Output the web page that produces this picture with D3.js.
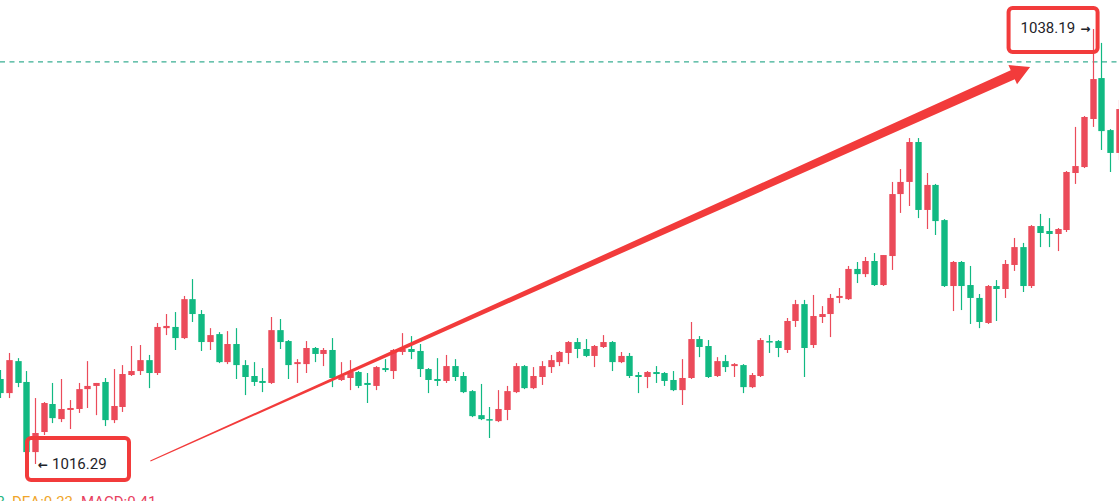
<!DOCTYPE html>
<html lang="en">
<head>
<meta charset="utf-8">
<script src="https://d3js.org/d3.v7.min.js"></script>
<style>
    body { margin: 0; background-color: #ffffff; overflow: hidden; }
    svg { display: block; font-family: Roboto, "Noto Sans", sans-serif; }
    .note { fill: #1e2329; font-size: 15px; }
    .arw { font-family: "DejaVu Sans", sans-serif; font-size: 12px; font-weight: bold; }
</style>
</head>
<body>
<script>
// candle data (oldest first)
var open = [1020.57, 1019.86, 1021.47, 1020.42, 1016.89, 1017.90, 1019.31, 1018.55, 1019.01, 1019.06,
    1020.06, 1020.22, 1020.42, 1018.50, 1019.16, 1020.77, 1020.97, 1021.52, 1020.87, 1023.13,
    1023.19, 1022.63, 1024.59, 1023.84, 1022.43, 1022.83, 1021.42, 1022.33, 1021.27, 1020.72,
    1020.47, 1020.37, 1023.03, 1022.48, 1021.32, 1021.32, 1022.13, 1021.83, 1022.03, 1020.52,
    1020.62, 1020.92, 1020.37, 1020.22, 1021.12, 1020.97, 1021.93, 1022.08, 1021.98, 1021.07,
    1020.57, 1020.47, 1021.22, 1020.72, 1019.96, 1018.75, 1018.55, 1018.45, 1019.01, 1019.91,
    1021.22, 1020.11, 1020.67, 1021.17, 1021.42, 1021.88, 1022.43, 1022.08, 1021.73, 1022.18,
    1022.43, 1021.42, 1021.73, 1020.77, 1020.67, 1020.92, 1020.87, 1020.52, 1020.01, 1020.62,
    1022.58, 1022.23, 1020.72, 1021.47, 1021.22, 1021.27, 1020.16, 1020.72, 1022.48, 1022.48,
    1022.03, 1023.49, 1024.34, 1022.28, 1023.69, 1023.84, 1024.65, 1024.59, 1026.11, 1025.85,
    1026.51, 1025.30, 1026.76, 1029.88, 1030.49, 1032.50, 1029.08, 1030.34, 1028.57, 1025.25,
    1026.46, 1025.30, 1024.65, 1023.39, 1025.25, 1025.10, 1026.31, 1027.21, 1025.25, 1028.27,
    1028.02, 1027.87, 1028.07, 1030.94, 1031.24, 1033.66, 1035.72, 1033.10, 1031.95];
var high = [1021.02, 1021.88, 1021.62, 1020.97, 1019.61, 1019.41, 1020.37, 1020.57, 1019.51, 1020.37,
    1021.47, 1020.37, 1020.62, 1021.07, 1021.27, 1022.23, 1022.28, 1021.78, 1023.39, 1023.84,
    1023.94, 1024.75, 1025.60, 1024.04, 1023.13, 1022.93, 1022.98, 1023.13, 1021.52, 1021.42,
    1021.12, 1023.69, 1023.59, 1022.53, 1021.57, 1022.48, 1022.18, 1022.13, 1022.63, 1021.42,
    1021.52, 1020.97, 1020.87, 1021.22, 1021.57, 1022.08, 1022.88, 1022.73, 1022.33, 1021.12,
    1021.62, 1021.78, 1021.57, 1020.92, 1020.01, 1020.32, 1019.16, 1020.01, 1020.22, 1021.37,
    1021.27, 1021.17, 1021.47, 1021.78, 1021.98, 1022.48, 1022.63, 1022.58, 1022.28, 1022.78,
    1022.48, 1021.93, 1021.88, 1020.92, 1020.97, 1021.22, 1020.92, 1020.97, 1021.57, 1023.44,
    1022.73, 1022.53, 1021.67, 1021.78, 1021.37, 1021.32, 1020.87, 1022.63, 1022.78, 1022.53,
    1023.64, 1024.55, 1024.55, 1024.80, 1024.24, 1024.85, 1025.15, 1026.26, 1026.46, 1026.71,
    1026.91, 1026.81, 1030.49, 1031.14, 1032.70, 1032.70, 1030.94, 1030.39, 1028.62, 1026.51,
    1026.51, 1026.26, 1024.85, 1025.30, 1025.55, 1026.56, 1027.67, 1027.42, 1028.32, 1028.88,
    1028.67, 1028.17, 1031.04, 1033.26, 1033.81, 1038.19, 1037.49, 1033.15, 1034.62];
var low = [1019.61, 1019.61, 1020.16, 1016.85, 1016.29, 1017.75, 1018.35, 1018.40, 1018.05, 1018.86,
    1019.11, 1018.75, 1018.20, 1018.35, 1018.91, 1020.72, 1020.77, 1020.11, 1020.77, 1022.78,
    1022.03, 1022.58, 1023.44, 1021.98, 1022.03, 1021.37, 1021.32, 1020.57, 1019.76, 1020.22,
    1019.91, 1020.32, 1022.08, 1020.57, 1020.37, 1020.87, 1021.42, 1021.22, 1020.16, 1020.47,
    1020.01, 1020.11, 1019.36, 1020.01, 1020.92, 1020.57, 1021.78, 1021.57, 1020.67, 1019.86,
    1020.22, 1020.37, 1020.47, 1019.86, 1018.65, 1018.50, 1017.60, 1018.40, 1018.50, 1019.86,
    1020.06, 1020.06, 1020.27, 1020.87, 1021.22, 1021.32, 1021.62, 1021.67, 1021.17, 1022.13,
    1020.97, 1021.37, 1020.62, 1019.86, 1020.11, 1020.37, 1020.22, 1019.96, 1019.26, 1020.57,
    1021.67, 1020.62, 1020.67, 1020.92, 1020.67, 1019.86, 1020.11, 1020.67, 1021.88, 1021.67,
    1021.88, 1023.19, 1020.67, 1022.13, 1023.39, 1022.68, 1024.39, 1024.55, 1025.40, 1025.70,
    1025.25, 1025.25, 1026.06, 1028.93, 1029.28, 1028.67, 1028.12, 1027.82, 1025.20, 1023.99,
    1024.04, 1023.34, 1023.13, 1023.34, 1023.49, 1024.65, 1026.01, 1024.95, 1025.15, 1027.21,
    1027.21, 1027.01, 1027.97, 1030.39, 1031.19, 1033.26, 1032.10, 1030.99, 1031.59];
var close = [1019.86, 1021.52, 1020.37, 1016.89, 1017.85, 1019.36, 1018.60, 1019.06, 1019.11, 1020.06,
    1020.22, 1020.37, 1018.50, 1019.21, 1020.82, 1020.97, 1021.52, 1020.87, 1023.19, 1023.24,
    1022.63, 1024.59, 1023.84, 1022.43, 1022.78, 1021.42, 1022.33, 1021.27, 1020.67, 1020.42,
    1020.37, 1023.03, 1022.43, 1021.27, 1021.42, 1022.13, 1021.83, 1022.03, 1020.62, 1020.72,
    1020.92, 1020.22, 1020.27, 1021.17, 1021.02, 1022.03, 1022.08, 1021.93, 1021.07, 1020.52,
    1020.47, 1021.22, 1020.67, 1019.91, 1018.70, 1018.55, 1018.50, 1019.06, 1019.96, 1021.22,
    1020.11, 1020.72, 1021.22, 1021.52, 1021.93, 1022.43, 1022.08, 1021.73, 1022.23, 1022.43,
    1021.42, 1021.73, 1020.72, 1020.67, 1020.92, 1020.82, 1020.47, 1020.01, 1020.62, 1022.58,
    1022.18, 1020.67, 1021.47, 1021.17, 1021.32, 1020.16, 1020.77, 1022.53, 1022.43, 1022.13,
    1023.49, 1024.34, 1022.13, 1023.74, 1023.84, 1024.65, 1024.75, 1026.11, 1025.85, 1026.51,
    1025.30, 1026.81, 1029.88, 1030.49, 1032.50, 1029.08, 1030.34, 1028.52, 1025.25, 1026.46,
    1025.25, 1024.65, 1023.44, 1025.25, 1025.10, 1026.36, 1027.21, 1025.25, 1028.27, 1027.92,
    1027.87, 1028.12, 1030.99, 1031.29, 1033.76, 1035.67, 1033.05, 1031.95, 1034.16];

// annotations
var minLabel = "1016.29", maxLabel = "1038.19";
var minIndex = 4, maxIndex = 125;
var dashPrice = 1036.53;
var arrowFrom = [17.2, 1016.44], arrowTo = [117.85, 1036.28];
var legend = [
    {text: "DIF:0.73", color: "#1db57f"},
    {text: "DEA:0.33", color: "#f0a52a"},
    {text: "MACD:0.41", color: "#e8415f"}
];

var width = 1119, height = 501;
var upColor = "#eb4b5a", downColor = "#11b982", markRed = "#f23b3b";

var data = open.map(function(o, i) {
    return {i: i, open: o, high: high[i], low: low[i], close: close[i]};
});

var x = d3.scaleLinear().domain([0, data.length - 1]).range([0.04, 1118.8]);
var y = d3.scaleLinear().domain([1016.29, 1038.19]).range([464, 29]);
var bodyW = 6.4;

var svg = d3.select("body").append("svg")
    .attr("width", width)
    .attr("height", height);

// dashed price line
svg.append("line")
    .attr("x1", 0).attr("x2", width)
    .attr("y1", y(dashPrice)).attr("y2", y(dashPrice))
    .attr("stroke", "#3aae93")
    .attr("stroke-width", 1.3)
    .attr("stroke-dasharray", "5,4.5");

var candle = svg.append("g").selectAll("g")
    .data(data)
    .enter().append("g")
    .attr("fill", function(d) { return d.close >= d.open ? upColor : downColor; })
    .attr("stroke", function(d) { return d.close >= d.open ? upColor : downColor; });

candle.append("line")
    .attr("x1", function(d) { return Math.round(x(d.i)) + 0.5; })
    .attr("x2", function(d) { return Math.round(x(d.i)) + 0.5; })
    .attr("y1", function(d) { return y(d.high); })
    .attr("y2", function(d) { return y(d.low); })
    .attr("stroke-width", 1.2);

candle.append("rect")
    .attr("stroke", "none")
    .attr("x", function(d) { return Math.round(x(d.i)) + 0.5 - bodyW / 2; })
    .attr("width", bodyW)
    .attr("y", function(d) { return y(Math.max(d.open, d.close)); })
    .attr("height", function(d) { return Math.max(1.5, Math.abs(y(d.open) - y(d.close))); });

// trend arrow, tapered from the tail to the head
var p0 = [x(arrowFrom[0]), y(arrowFrom[1])], p1 = [x(arrowTo[0]), y(arrowTo[1])];
var dx = p1[0] - p0[0], dy = p1[1] - p0[1], len = Math.sqrt(dx * dx + dy * dy);
var ux = dx / len, uy = dy / len, nx = -uy, ny = ux;
var headLen = 19, headHalf = 10.5, neckHalf = 5, tailHalf = 0.5;
var neck = [p1[0] - ux * headLen, p1[1] - uy * headLen];
var arrowPts = [
    [p0[0] + nx * tailHalf, p0[1] + ny * tailHalf],
    [neck[0] + nx * neckHalf, neck[1] + ny * neckHalf],
    [neck[0] + nx * headHalf, neck[1] + ny * headHalf],
    p1,
    [neck[0] - nx * headHalf, neck[1] - ny * headHalf],
    [neck[0] - nx * neckHalf, neck[1] - ny * neckHalf],
    [p0[0] - nx * tailHalf, p0[1] - ny * tailHalf]
];
svg.append("path")
    .attr("d", d3.line()(arrowPts) + "Z")
    .attr("fill", markRed);

// min / max callouts
svg.append("rect")
    .attr("x", x(minIndex) - 8).attr("y", y(low[minIndex]) - 26)
    .attr("width", 102).attr("height", 42).attr("rx", 4)
    .attr("fill", "none").attr("stroke", markRed).attr("stroke-width", 4);
var t1 = svg.append("text").attr("class", "note")
    .attr("x", x(minIndex) + 3).attr("y", y(low[minIndex]) + 5);
t1.append("tspan").attr("class", "arw").text("\u2190");
t1.append("tspan").attr("dx", 4).text(minLabel);

svg.append("rect")
    .attr("x", x(maxIndex) - 84).attr("y", y(high[maxIndex]) - 21)
    .attr("width", 89).attr("height", 44).attr("rx", 4)
    .attr("fill", "none").attr("stroke", markRed).attr("stroke-width", 4);
var t2 = svg.append("text").attr("class", "note")
    .attr("x", x(maxIndex) - 72).attr("y", y(high[maxIndex]) + 4);
t2.append("tspan").text(maxLabel);
t2.append("tspan").attr("class", "arw").attr("dx", 5).text("\u2192");

// indicator legend, cut off at the bottom edge as in the source screenshot
var lg = svg.append("text").attr("x", 5).attr("y", 507)
    .attr("font-size", "15px").attr("text-anchor", "end");
lg.append("tspan").attr("fill", legend[0].color).text(legend[0].text);
svg.append("text").attr("x", 12).attr("y", 507).attr("font-size", "15px")
    .selectAll("tspan").data(legend.slice(1)).enter().append("tspan")
    .attr("dx", function(d, i) { return i ? 8 : 0; })
    .attr("fill", function(d) { return d.color; })
    .text(function(d) { return d.text; });
</script>
</body>
</html>
